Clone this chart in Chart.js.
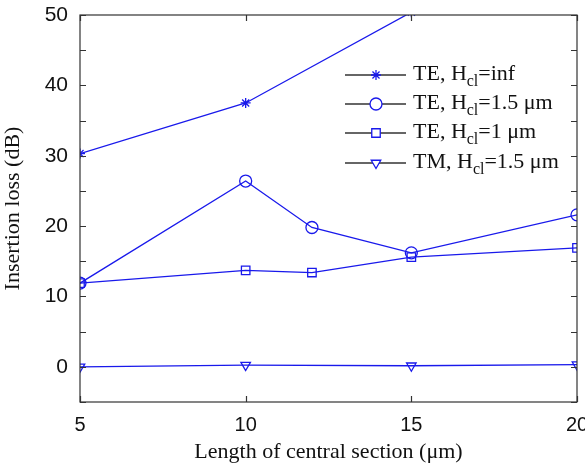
<!DOCTYPE html>
<html>
<head>
<meta charset="utf-8">
<script src="https://cdn.jsdelivr.net/npm/chart.js@4.4.0/dist/chart.umd.min.js"></script>
<style>
  html, body { margin: 0; padding: 0; background: #fff; }
  #wrap { width: 585px; height: 465px; }
</style>
</head>
<body>
<div id="wrap"><canvas id="chart" width="585" height="465"></canvas></div>
<script>
// values
const xTicks = [5, 10, 15, 20];
const xTEinf = [5, 10, 15];
const yTEinf = [30.3, 37.5, 50.4];
const xTE15 = [5, 10, 12, 15, 20];
const yTE15 = [11.9, 26.4, 19.8, 16.2, 21.6];
const xTE1 = [5, 10, 12, 15, 20];
const yTE1 = [11.9, 13.7, 13.4, 15.6, 16.9];
const xTM = [5, 10, 15, 20];
const yTM = [0.0, 0.25, 0.15, 0.3];

const labels = [
  { pre: "TE, H", sub: "cl", post: "=inf" },
  { pre: "TE, H", sub: "cl", post: "=1.5 \u03bcm" },
  { pre: "TE, H", sub: "cl", post: "=1 \u03bcm" },
  { pre: "TM, H", sub: "cl", post: "=1.5 \u03bcm" },
];

const BLUE = "rgb(25,25,235)";
const SANS = "'Liberation Sans', Arial, sans-serif";
const SERIF = "'Liberation Serif', 'Times New Roman', serif";

function pts(xs, ys) {
  return xs.map((x, i) => ({ x: x, y: ys[i] }));
}

const markers = [
  { pointStyle: "star", radius: 5, rotation: 0 },
  { pointStyle: "circle", radius: 6, rotation: 0 },
  { pointStyle: "rect", radius: 6, rotation: 0 },
  { pointStyle: "triangle", radius: 5.5, rotation: 180 },
];

function ds(xs, ys, m) {
  return {
    data: pts(xs, ys),
    showLine: true,
    borderColor: BLUE,
    borderWidth: 1.3,
    pointStyle: m.pointStyle,
    pointRadius: m.radius,
    pointRotation: m.rotation,
    pointBorderColor: BLUE,
    pointBackgroundColor: "rgba(0,0,0,0)",
    pointBorderWidth: 1.3,
    clip: 0,
  };
}

// frame, inward ticks and the legend with subscripts
const decor = {
  id: "decor",
  afterDraw(chart) {
    const ctx = chart.ctx;
    const a = chart.chartArea;
    const xs = chart.scales.x, ys = chart.scales.y;
    ctx.save();
    ctx.strokeStyle = "#333";
    ctx.lineWidth = 1.2;
    ctx.strokeRect(a.left, a.top, a.right - a.left, a.bottom - a.top);
    ctx.beginPath();
    ys.ticks.forEach((t) => {
      const py = Math.round(ys.getPixelForValue(t.value)) + 0.5;
      ctx.moveTo(a.left, py); ctx.lineTo(a.left + 6, py);
      ctx.moveTo(a.right, py); ctx.lineTo(a.right - 6, py);
    });
    xs.ticks.forEach((t) => {
      const px = Math.round(xs.getPixelForValue(t.value)) + 0.5;
      ctx.moveTo(px, a.bottom); ctx.lineTo(px, a.bottom - 6);
      ctx.moveTo(px, a.top); ctx.lineTo(px, a.top + 6);
    });
    ctx.stroke();

    // legend
    const rows = [75, 104, 133, 163];
    const lx0 = 345, lx1 = 406, mx = 376, tx = 413;
    rows.forEach((ry, i) => {
      ctx.strokeStyle = "#333";
      ctx.lineWidth = 1.5;
      ctx.beginPath();
      ctx.moveTo(lx0, ry); ctx.lineTo(lx1, ry);
      ctx.stroke();
      ctx.strokeStyle = BLUE;
      ctx.fillStyle = "#fff";
      ctx.lineWidth = 1.3;
      const m = markers[i];
      Chart.helpers.drawPoint(ctx, {
        pointStyle: m.pointStyle, radius: m.radius, rotation: m.rotation, borderWidth: 1.3,
      }, mx, ry);
      ctx.fillStyle = "#111";
      ctx.textBaseline = "alphabetic";
      ctx.textAlign = "left";
      let x = tx;
      const base = ry + 5;
      ctx.font = "22px " + SERIF;
      ctx.fillText(labels[i].pre, x, base);
      x += ctx.measureText(labels[i].pre).width;
      ctx.font = "16px " + SERIF;
      ctx.fillText(labels[i].sub, x, base + 6);
      x += ctx.measureText(labels[i].sub).width;
      ctx.font = "22px " + SERIF;
      ctx.fillText(labels[i].post, x, base);
    });
    ctx.restore();
  },
};

new Chart(document.getElementById("chart"), {
  type: "scatter",
  data: {
    datasets: [
      ds(xTEinf, yTEinf, markers[0]),
      ds(xTE15, yTE15, markers[1]),
      ds(xTE1, yTE1, markers[2]),
      ds(xTM, yTM, markers[3]),
    ],
  },
  options: {
    responsive: false,
    animation: false,
    layout: { padding: { top: 15, right: 8, left: 0, bottom: 0 } },
    plugins: { legend: { display: false }, tooltip: { enabled: false } },
    scales: {
      x: {
        type: "linear",
        min: 5,
        max: 20,
        afterBuildTicks: (s) => { s.ticks = xTicks.map((v) => ({ value: v })); },
        afterFit: (s) => { s.height = 63; s.paddingRight = 0; s.paddingLeft = 0; },
        grid: { display: false },
        border: { display: false },
        ticks: { color: "#111", font: { family: SANS, size: 20 }, padding: 3, maxRotation: 0 },
        title: {
          display: true,
          text: "Length of central section (\u03bcm)",
          color: "#111",
          font: { family: SERIF, size: 22 },
          padding: { top: 0, bottom: 0 },
        },
      },
      y: {
        min: -5,
        max: 50,
        afterFit: (s) => { s.width = 80; s.paddingTop = 0; s.paddingBottom = 0; },
        grid: { display: false },
        border: { display: false },
        ticks: {
          stepSize: 5,
          color: "#111",
          font: { family: SANS, size: 21 },
          padding: 4,
          callback: (v) => (v % 10 === 0 ? v : ""),
        },
        title: {
          display: true,
          text: "Insertion loss (dB)",
          color: "#111",
          font: { family: SERIF, size: 22 },
          padding: { top: 0, bottom: 4 },
        },
      },
    },
  },
  plugins: [decor],
});
</script>
</body>
</html>
